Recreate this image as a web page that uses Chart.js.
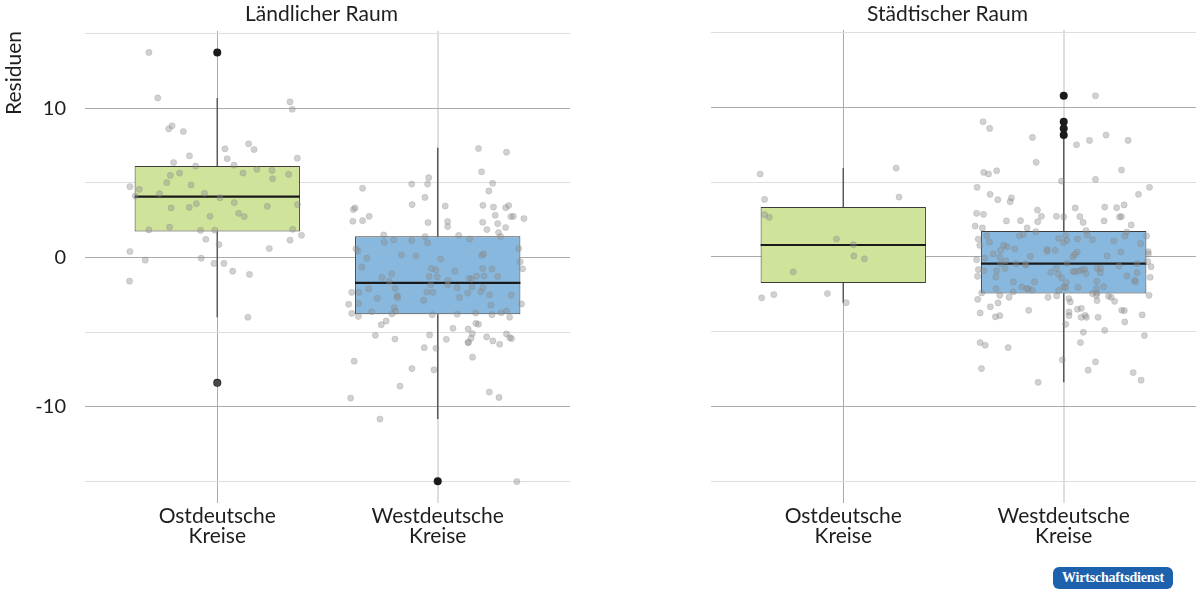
<!DOCTYPE html>
<html><head><meta charset="utf-8">
<script src="https://cdn.jsdelivr.net/npm/chart.js@4.4.1/dist/chart.umd.min.js"></script>
<style>
html,body{margin:0;padding:0;background:#fff;width:1200px;height:597px;overflow:hidden;}
.panel{position:absolute;top:0;width:600px;height:597px;}
#badge{position:absolute;left:1053px;top:567px;width:120px;height:22px;border-radius:6px;background:#1d61ac;color:#fff;font:bold 14px "Liberation Serif","DejaVu Serif",serif;line-height:22px;text-align:center;letter-spacing:-0.2px;}
</style></head><body>
<div class="panel" style="left:0"><canvas id="c1" width="600" height="597"></canvas></div>
<div class="panel" style="left:600px"><canvas id="c2" width="600" height="597"></canvas></div>
<div id="badge">Wirtschaftsdienst</div>
<script>
// ---------- data ----------
const categories = [['Ostdeutsche','Kreise'],['Westdeutsche','Kreise']];
const panelTitles = ['Ländlicher Raum','Städtischer Raum'];
const yAxisTitle = 'Residuen';
const yGridValues = [-15,-10,-5,0,5,10,15];
const yLabelledTicks = [-10,0,10];
const boxColors = ['#cfe39b','#88b8dd'];

// Ländlicher Raum: [Ost, West]
const ruralQ1 = [1.74, -3.81];
const ruralMedian = [4.08, -1.70];
const ruralQ3 = [6.13, 1.42];
const ruralLow = [-4.01, -10.84];
const ruralHigh = [10.70, 7.36];
const ruralOutliers = [[13.75, -8.41], [-15.01]];

// Städtischer Raum: [Ost, West]
const urbanQ1 = [-1.74, -2.45];
const urbanMedian = [0.80, -0.45];
const urbanQ3 = [3.34, 1.74];
const urbanLow = [-3.06, -8.39];
const urbanHigh = [5.95, 8.00];
const urbanOutliers = [[], [10.79, 9.05, 8.60, 8.16]];

// jittered observations: [horizontal jitter offset, residual]
const ruralOstPoints = [[-0.31,13.75],[-0.27,10.70],[0.33,10.43],[0.34,9.94],[-0.205,8.83],[-0.22,8.63],[-0.154,8.45],[0.035,7.29],[0.142,7.62],[0.167,7.24],[-0.126,6.82],[0.045,6.62],[0.363,6.66],[-0.198,6.37],[-0.098,6.13],[0.076,6.19],[0.18,5.91],[0.248,5.84],[-0.171,5.66],[-0.213,5.50],[0.117,5.66],[0.324,5.57],[0.251,5.28],[-0.229,5.02],[-0.119,4.86],[-0.396,4.75],[-0.354,4.57],[-0.262,4.28],[-0.058,4.30],[-0.372,4.12],[0.012,4.01],[0.077,3.68],[-0.095,3.61],[0.364,3.55],[0.227,3.43],[-0.209,3.32],[-0.127,3.36],[0.097,2.96],[0.122,2.74],[-0.033,2.76],[-0.216,2.03],[-0.31,1.85],[-0.076,1.81],[-0.011,1.83],[0.342,1.89],[0.382,1.49],[-0.052,1.22],[0.33,1.16],[0.008,0.87],[0.236,0.60],[-0.396,0.40],[-0.327,-0.18],[-0.073,-0.05],[-0.015,-0.40],[0.03,-0.40],[0.07,-0.92],[0.146,-1.14],[-0.398,-1.59],[0.139,-4.01],[0.0,-8.41]];
const ruralWestPoints = [[0.185,7.31],[0.312,7.06],[0.199,5.75],[-0.041,5.35],[-0.118,4.92],[-0.046,4.92],[0.249,4.97],[-0.341,4.64],[0.232,4.46],[-0.058,4.03],[-0.116,3.55],[0.034,3.45],[0.205,3.50],[0.253,3.38],[0.322,3.48],[0.308,3.34],[-0.375,3.32],[-0.383,3.21],[-0.311,2.76],[0.261,2.83],[0.332,2.74],[0.343,2.76],[0.391,2.61],[-0.385,2.43],[-0.341,2.47],[-0.044,2.34],[0.045,2.41],[0.045,2.07],[0.204,2.36],[0.272,2.27],[0.223,1.87],[0.308,2.01],[0.276,1.67],[0.285,1.40],[-0.245,1.51],[-0.057,1.40],[0.095,1.49],[-0.243,1.02],[-0.2,1.18],[-0.118,1.14],[-0.046,0.98],[0.145,1.24],[0.367,0.60],[-0.371,0.58],[-0.362,0.44],[-0.164,0.17],[-0.099,0.11],[0.199,0.15],[0.208,0.24],[-0.321,-0.05],[0.013,-0.11],[0.374,-0.29],[-0.344,-0.65],[-0.028,-0.74],[-0.008,-0.83],[0.078,-0.92],[0.204,-0.74],[0.246,-0.78],[0.385,-0.76],[-0.209,-1.10],[-0.254,-1.34],[-0.039,-1.27],[-0.002,-1.30],[0.176,-1.25],[0.21,-1.25],[0.272,-1.27],[0.143,-1.40],[0.154,-1.45],[-0.221,-1.59],[0.046,-1.54],[-0.032,-1.83],[0.045,-1.83],[-0.193,-2.07],[-0.313,-2.10],[0.088,-2.03],[0.155,-1.97],[0.205,-2.03],[-0.39,-2.34],[-0.357,-2.34],[-0.049,-2.32],[-0.022,-2.34],[0.136,-2.39],[0.195,-2.30],[0.235,-2.50],[0.333,-2.52],[-0.274,-2.74],[-0.184,-2.57],[-0.182,-2.70],[0.099,-2.68],[-0.064,-2.88],[-0.404,-3.14],[-0.359,-3.08],[0.241,-3.19],[0.38,-3.12],[-0.197,-3.37],[-0.191,-3.61],[-0.3,-3.64],[-0.39,-3.75],[-0.36,-3.95],[-0.208,-3.79],[-0.025,-3.84],[0.088,-3.81],[0.172,-3.73],[0.246,-3.84],[0.288,-3.71],[0.312,-3.59],[0.326,-4.01],[-0.234,-4.26],[-0.256,-4.51],[0.173,-4.42],[0.185,-4.48],[0.069,-4.75],[0.138,-4.80],[0.157,-5.11],[-0.283,-5.22],[-0.037,-5.20],[0.312,-5.13],[0.222,-5.33],[0.327,-5.38],[0.335,-5.44],[-0.194,-5.47],[0.039,-5.49],[0.151,-5.42],[0.25,-5.60],[0.281,-5.82],[0.137,-5.71],[0.14,-5.69],[-0.061,-6.05],[-0.008,-6.09],[0.158,-6.69],[-0.379,-6.96],[-0.117,-7.45],[-0.017,-7.54],[-0.171,-8.63],[0.234,-9.03],[0.278,-9.39],[-0.395,-9.43],[-0.262,-10.84],[0.359,-15.03]];
const urbanOstPoints = [[-0.377,5.55],[0.24,5.95],[-0.357,3.85],[0.253,4.01],[-0.357,2.83],[-0.336,2.65],[-0.031,1.20],[0.046,0.82],[0.048,0.07],[0.096,-0.13],[-0.227,-1.00],[-0.37,-2.74],[-0.315,-2.52],[-0.072,-2.45],[0.013,-3.06]];
const urbanWestPoints = [[0.144,10.79],[-0.366,9.05],[-0.336,8.60],[-0.142,8.00],[0.192,8.16],[0.058,7.51],[0.117,7.80],[0.292,7.80],[-0.125,6.33],[-0.363,5.66],[-0.341,5.55],[-0.304,5.77],[0.262,5.82],[-0.01,5.08],[0.144,5.19],[-0.393,4.66],[0.389,4.66],[-0.334,4.19],[0.339,4.19],[-0.299,3.83],[-0.237,3.95],[-0.243,3.70],[-0.395,2.92],[-0.364,2.85],[-0.119,3.14],[0.052,3.28],[0.186,3.34],[0.24,3.30],[0.274,3.48],[-0.101,2.72],[-0.033,2.72],[0.0,2.68],[0.073,2.70],[0.253,2.68],[0.262,2.70],[-0.26,2.41],[-0.196,2.43],[-0.118,2.36],[0.088,2.31],[0.183,2.41],[0.306,2.14],[-0.402,2.07],[-0.369,1.94],[-0.166,1.94],[0.101,1.76],
[-0.388,1.20],[-0.349,1.42],[-0.381,0.78],[-0.337,1.00],[-0.201,1.40],[-0.183,1.51],[-0.127,1.69],[-0.023,1.24],[0.008,1.44],[0.015,1.11],[-0.001,0.96],[0.063,1.20],[0.106,1.47],[0.131,1.16],[0.227,1.07],[0.277,1.40],[0.286,1.67],[0.349,0.89],[0.376,1.40],[-0.272,0.78],[-0.257,0.69],[-0.286,0.44],[-0.222,0.54],[-0.32,0.20],[-0.29,0.00],[-0.075,0.51],[-0.075,0.37],[-0.039,0.44],[0.061,0.33],[0.05,0.17],[0.041,0.00],[-0.151,0.04],[0.259,0.33],[0.197,0.07],[0.383,0.35],[0.384,0.20],[-0.395,-0.18],[-0.358,-0.07],[-0.263,-0.27],[-0.287,-0.43],[-0.216,-0.45],[-0.174,-0.47],[-0.172,-0.54],[0.015,-0.43],[0.381,-0.31],[0.396,-0.65],[0.251,-0.60],[0.333,-0.45],[-0.387,-0.85],[-0.363,-0.92],[-0.304,-0.92],[-0.266,-0.78],[-0.059,-1.03],[-0.034,-0.76],[-0.025,-1.14],[0.043,-0.98],[0.05,-0.98],[0.068,-0.96],[0.08,-0.87],[0.094,-0.83],[0.101,-1.10],[0.151,-0.76],[0.168,-0.78],[0.166,-1.07],[0.333,-1.05],[-0.391,-1.30],[-0.308,-1.34],[-0.01,-1.40],[0.287,-1.27],[0.392,-1.36],[-0.228,-1.67],[-0.133,-1.67],[0.011,-1.72],[0.15,-1.63],[0.321,-1.56],[0.325,-1.67],[-0.307,-2.12],[-0.19,-2.01],[-0.168,-2.12],[-0.16,-2.14],[-0.142,-2.23],[0.0,-2.01],[0.008,-2.07],[0.065,-2.03],[0.148,-2.12],[0.181,-1.99],[-0.229,-2.34],[-0.023,-2.25],[0.13,-2.45],[0.151,-2.43],[-0.372,-2.41],
[-0.39,-2.84],[-0.29,-2.57],[-0.248,-2.70],[-0.071,-2.70],[-0.032,-2.61],[0.023,-2.79],[0.03,-3.01],[0.148,-2.59],[0.151,-2.92],[0.215,-2.70],[0.231,-2.97],[0.387,-2.57],[0.203,-2.63],[-0.298,-3.08],[-0.333,-3.34],[-0.379,-3.75],[-0.31,-4.01],[-0.29,-3.93],[-0.159,-3.57],[0.024,-3.68],[0.024,-3.93],[0.062,-3.50],[0.08,-3.44],[0.079,-4.04],[0.097,-3.91],[0.103,-4.04],[0.156,-4.04],[0.263,-3.57],[0.275,-3.59],[0.356,-3.88],[0.277,-4.35],[0.009,-4.51],[0.089,-5.04],[0.186,-4.91],[0.366,-5.26],[-0.379,-5.73],[-0.356,-5.91],[-0.252,-6.07],[0.076,-5.73],[-0.006,-6.89],[0.144,-7.02],[-0.373,-7.47],[0.111,-7.58],[0.315,-7.74],[-0.116,-8.39],[0.351,-8.25]];

// ---------- rendering ----------
const FONT = 'Lato, "Open Sans", sans-serif';
const TEXT = '#1e1e1e';

const boxPartsPlugin = {
  id: 'boxParts',
  beforeDatasetDraw(chart, args) {
    const ds = chart.data.datasets[args.index];
    if (!ds.boxStats) return;
    const ctx = chart.ctx, y = chart.scales.y, st = ds.boxStats;
    ctx.save();
    ctx.strokeStyle = '#5a5a5a';
    ctx.lineWidth = 1.5;
    args.meta.data.forEach((bar, i) => {
      ctx.beginPath();
      ctx.moveTo(bar.x, y.getPixelForValue(st.high[i]));
      ctx.lineTo(bar.x, y.getPixelForValue(st.q3[i]));
      ctx.moveTo(bar.x, y.getPixelForValue(st.q1[i]));
      ctx.lineTo(bar.x, y.getPixelForValue(st.low[i]));
      ctx.stroke();
    });
    ctx.restore();
  },
  afterDatasetDraw(chart, args) {
    const ds = chart.data.datasets[args.index];
    if (!ds.boxStats) return;
    const ctx = chart.ctx, y = chart.scales.y, st = ds.boxStats;
    ctx.save();
    ctx.strokeStyle = '#1a1a1a';
    ctx.lineWidth = 2.2;
    args.meta.data.forEach((bar, i) => {
      const ym = y.getPixelForValue(st.median[i]);
      ctx.beginPath();
      ctx.moveTo(bar.x - bar.width / 2, ym);
      ctx.lineTo(bar.x + bar.width / 2, ym);
      ctx.stroke();
    });
    ctx.restore();
  }
};

const panelTitlePlugin = {
  id: 'panelTitle',
  afterDraw(chart, args, opts) {
    const ctx = chart.ctx, a = chart.chartArea;
    ctx.save();
    ctx.font = '21px ' + FONT;
    ctx.fillStyle = TEXT;
    ctx.textAlign = 'center';
    ctx.textBaseline = 'alphabetic';
    ctx.fillText(opts.text, (a.left + a.right) / 2 - 6, 21);
    ctx.restore();
  }
};

function makePanel(canvasId, title, stats, outliers, pointGroups, showY, axisWidth, padRight) {
  const boxData = categories.map((c, i) => ({ x: i + 1, y: [stats.q1[i], stats.q3[i]] }));
  const outlierData = [];
  outliers.forEach((arr, i) => arr.forEach(v => outlierData.push({ x: i + 1, y: v })));
  const jitterData = [];
  pointGroups.forEach((grp, i) => grp.forEach(p => jitterData.push({ x: i + 1 + p[0], y: p[1] })));

  return new Chart(document.getElementById(canvasId), {
    type: 'bar',
    data: {
      datasets: [
        {
          type: 'bar', data: boxData, boxStats: stats,
          backgroundColor: boxColors, borderColor: '#3c3c3c', borderWidth: 1,
          borderSkipped: false, categoryPercentage: 1, barPercentage: 0.75, order: 3
        },
        {
          type: 'scatter', data: outlierData, pointRadius: 4, pointHoverRadius: 4,
          backgroundColor: '#1b1b1b', borderWidth: 0, order: 2
        },
        {
          type: 'scatter', data: jitterData, pointRadius: 3.1, pointHoverRadius: 3.1,
          backgroundColor: 'rgba(140,140,140,0.40)', borderColor: 'rgba(120,120,120,0.35)',
          borderWidth: 0.6, order: 1
        }
      ]
    },
    options: {
      responsive: false, animation: false, devicePixelRatio: 1,
      layout: { padding: { top: 30, right: padRight, left: 0, bottom: 0 } },
      plugins: { legend: { display: false }, tooltip: { enabled: false }, panelTitle: { text: title } },
      scales: {
        x: {
          type: 'linear', min: 0.4, max: 2.6, offset: false,
          afterBuildTicks: s => { s.ticks = categories.map((c, i) => ({ value: i + 1 })); },
          afterFit: s => { s.height = 94; },
          ticks: {
            callback: (v) => categories[Math.round(v) - 1],
            font: { family: FONT, size: 21, lineHeight: 0.92 }, color: TEXT,
            padding: 4, maxRotation: 0, autoSkip: false
          },
          grid: {
            offset: false, drawTicks: false,
            color: ctx => ctx.index === 0 ? '#ababab' : '#dedede',
            lineWidth: ctx => ctx.index === 0 ? 1 : 2
          },
          border: { display: false }
        },
        y: {
          type: 'linear', min: -16.47, max: 15.19,
          afterBuildTicks: s => { s.ticks = yGridValues.map(v => ({ value: v })); },
          afterFit: s => { s.width = axisWidth; },
          ticks: {
            display: showY,
            callback: v => yLabelledTicks.includes(v) ? String(v) : '',
            font: { family: FONT, size: 20 }, color: TEXT, padding: 19
          },
          grid: {
            drawTicks: false,
            color: ctx => yLabelledTicks.includes(ctx.tick.value) ? '#ababab' : '#dedede',
            lineWidth: 1
          },
          border: { display: false },
          title: {
            display: showY, text: yAxisTitle, align: 'end',
            font: { family: FONT, size: 21 }, color: TEXT, padding: { top: 2, bottom: 0 }
          }
        }
      }
    },
    plugins: [boxPartsPlugin, panelTitlePlugin]
  });
}

makePanel('c1', panelTitles[0],
  { q1: ruralQ1, median: ruralMedian, q3: ruralQ3, low: ruralLow, high: ruralHigh },
  ruralOutliers, [ruralOstPoints, ruralWestPoints], true, 85, 30);
makePanel('c2', panelTitles[1],
  { q1: urbanQ1, median: urbanMedian, q3: urbanQ3, low: urbanLow, high: urbanHigh },
  urbanOutliers, [urbanOstPoints, urbanWestPoints], false, 111, 2);
</script>
</body></html>
